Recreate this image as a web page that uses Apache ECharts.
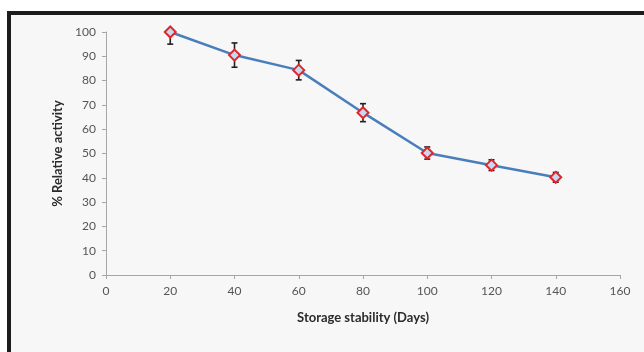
<!DOCTYPE html>
<html>
<head>
<meta charset="utf-8">
<script src="https://cdn.jsdelivr.net/npm/echarts@6/dist/echarts.min.js"></script>
<style>
  html, body { margin: 0; padding: 0; background: #fff; }
  #chart { width: 644px; height: 352px; }
</style>
</head>
<body>
<div id="chart"></div>
<script>
  // storage stability data
  const days = [20, 40, 60, 80, 100, 120, 140]
  const activity = [100, 90.5, 84.3, 66.8, 50.2, 45.2, 40.2]
  const errors = [5, 5, 4, 3.7, 2.5, 2.2, 2]
  const yTicks = [0, 10, 20, 30, 40, 50, 60, 70, 80, 90, 100]
  const xTicks = [0, 20, 40, 60, 80, 100, 120, 140, 160]

  const labelFont = 'Lato, "Open Sans", sans-serif'

  const chart = echarts.init(document.getElementById('chart'))
  const options = {
    animation: false,
    graphic: [
      {
        type: 'rect',
        z: -10,
        shape: { x: 9, y: 13, width: 660, height: 360 },
        style: { fill: '#f7f7f7', stroke: '#1c1c1c', lineWidth: 4 }
      }
    ],
    grid: {
      left: 106,
      right: 24,
      top: 32,
      bottom: 77
    },
    xAxis: {
      type: 'value',
      min: xTicks[0],
      max: xTicks[xTicks.length - 1],
      interval: 20,
      name: 'Storage stability (Days)',
      nameLocation: 'middle',
      nameGap: 36,
      nameTextStyle: { color: '#2b2b2b', fontSize: 13, fontWeight: 'bold', fontFamily: labelFont },
      axisLine: { lineStyle: { color: '#a6a6a6', width: 1 } },
      axisTick: { show: true, length: 4, lineStyle: { color: '#a6a6a6' } },
      axisLabel: { color: '#555', fontSize: 12, fontFamily: labelFont, margin: 10 },
      splitLine: { show: false }
    },
    yAxis: {
      type: 'value',
      min: yTicks[0],
      max: yTicks[yTicks.length - 1],
      interval: 10,
      name: '% Relative activity',
      nameLocation: 'middle',
      nameGap: 41,
      nameRotate: 90,
      nameTextStyle: { color: '#2b2b2b', fontSize: 13, fontWeight: 'bold', fontFamily: labelFont },
      axisLine: { show: true, lineStyle: { color: '#a6a6a6', width: 1 } },
      axisTick: { show: true, length: 4, lineStyle: { color: '#a6a6a6' } },
      axisLabel: { color: '#555', fontSize: 12, fontFamily: labelFont, margin: 10 },
      splitLine: { show: false }
    },
    series: [
      {
        type: 'line',
        data: days.map((d, i) => [d, activity[i]]),
        symbol: 'diamond',
        symbolSize: 11,
        lineStyle: { color: '#4a7ebb', width: 2.5 },
        itemStyle: { color: '#c6d9f1', borderColor: '#e0262b', borderWidth: 2 },
        z: 3
      },
      {
        type: 'custom',
        clip: true,
        z: 2,
        data: days.map((d, i) => [d, activity[i] - errors[i], activity[i] + errors[i]]),
        renderItem: function (params, api) {
          const lo = api.coord([api.value(0), api.value(1)])
          const hi = api.coord([api.value(0), api.value(2)])
          const cap = 3
          const style = { stroke: '#222', lineWidth: 1.6 }
          return {
            type: 'group',
            children: [
              { type: 'line', shape: { x1: lo[0], y1: lo[1], x2: hi[0], y2: hi[1] }, style: style },
              { type: 'line', shape: { x1: lo[0] - cap, y1: lo[1], x2: lo[0] + cap, y2: lo[1] }, style: style },
              { type: 'line', shape: { x1: hi[0] - cap, y1: hi[1], x2: hi[0] + cap, y2: hi[1] }, style: style }
            ]
          }
        }
      }
    ]
  }
  chart.setOption(options)
</script>
</body>
</html>
